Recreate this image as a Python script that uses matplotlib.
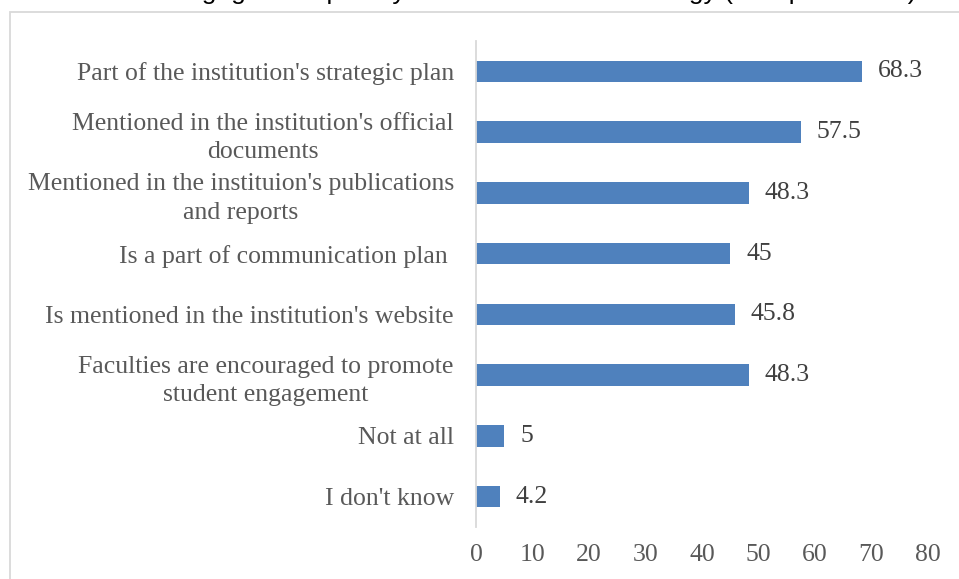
import matplotlib.pyplot as plt
from matplotlib.patches import Rectangle

# categories top to bottom, values in percent
labels = [
    "Part of the institution's strategic plan",
    "Mentioned in the institution's official\ndocuments",
    "Mentioned in the instituion's publications\nand reports",
    "Is a part of communication plan ",
    "Is mentioned in the institution's website",
    "Faculties are encouraged to promote\nstudent engagement",
    "Not at all",
    "I don't know",
]
values = [68.3, 57.5, 48.3, 45, 45.8, 48.3, 5, 4.2]
xticks = [0, 10, 20, 30, 40, 50, 60, 70, 80]
title = "Student engagement priority in the institution's strategy (Multiple choice)"

bar_color = '#4F81BD'
text_gray = '#595959'
serif = 'Liberation Serif'

fig = plt.figure(figsize=(9.59, 5.79), dpi=100)
ax = fig.add_axes([476/959, 1 - 527/579, (928 - 476)/959, (527 - 41)/579])

ypos = list(range(len(labels)))
ax.barh(ypos, values, height=0.35, color=bar_color, edgecolor='none')
ax.set_ylim(len(labels) - 0.5, -0.5)
ax.set_xlim(0, 80)

for y, v in zip(ypos, values):
    ax.annotate(f"{v:g}", (v, y), xytext=(11.5, 0), textcoords='offset points',
                ha='left', va='center', fontsize=18.5, family=serif, color='#404040')

ax.set_yticks(ypos)
ax.set_yticklabels(labels, fontsize=18.5, family=serif, color=text_gray,
                   multialignment='center', linespacing=1.4)
ax.set_xticks(xticks)
ax.set_xticklabels([str(t) for t in xticks], fontsize=18.5, family=serif, color=text_gray)
ax.tick_params(axis='y', length=0, pad=16)
ax.tick_params(axis='x', length=0, pad=12)

for s in ['top', 'right', 'bottom']:
    ax.spines[s].set_visible(False)
ax.spines['left'].set_color('#D9D9D9')
ax.spines['left'].set_linewidth(1.3)

# chart area border (runs off the image on the right and bottom)
fig.patches.append(Rectangle((10/959, -0.1), 1.2, 1.1 - 12/579, transform=fig.transFigure,
                             fill=False, edgecolor='#D9D9D9', linewidth=1.3))

# title, mostly cut off at the top of the picture
fig.text(495/959, 1 + 1/579, title, ha='center', va='baseline',
         fontsize=19, family='Liberation Sans', color='#000000')

plt.savefig('out.png', dpi=100)
